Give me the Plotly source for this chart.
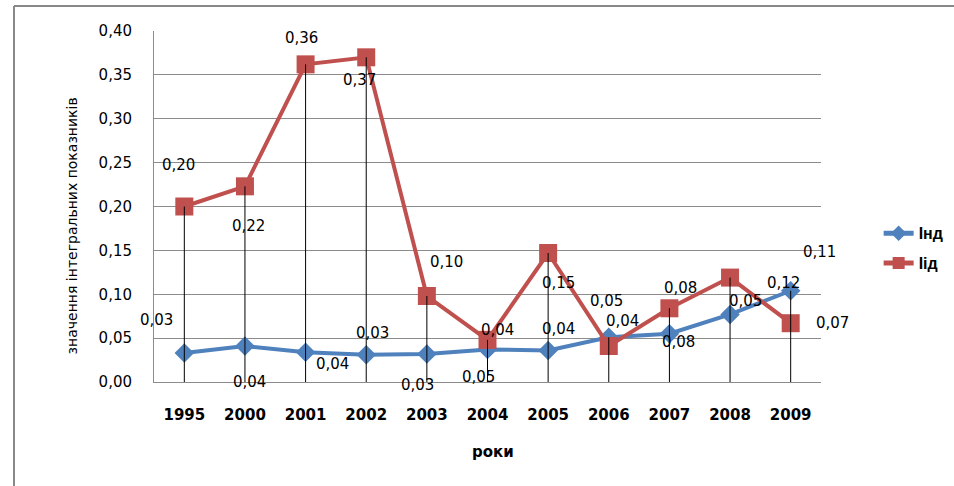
import plotly.graph_objects as go

years = ["1995", "2000", "2001", "2002", "2003", "2004", "2005", "2006", "2007", "2008", "2009"]
ind = [0.033, 0.041, 0.034, 0.031, 0.032, 0.037, 0.036, 0.051, 0.055, 0.077, 0.104]
iid = [0.200, 0.223, 0.362, 0.370, 0.098, 0.048, 0.147, 0.041, 0.084, 0.119, 0.067]
ind_labels = ["0,03", "0,04", "0,04", "0,03", "0,03", "0,05", "0,04", "0,05", "0,08", "0,05", "0,11"]
iid_labels = ["0,20", "0,22", "0,36", "0,37", "0,10", "0,04", "0,15", "0,04", "0,08", "0,12", "0,07"]
y_ticks = [0.0, 0.05, 0.10, 0.15, 0.20, 0.25, 0.30, 0.35, 0.40]

# label offsets in pixels (dx right, dy down) relative to their point
ind_off = [(-28, -33), (5, 36), (27, 12), (6, -22), (-9, 31), (-9, 27), (10, -21), (-2, -36), (9, 8), (15, -13), (29, -39)]
iid_off = [(-6, -42), (4, 40), (-4, -26), (-7, 23), (20, -34), (10, -10), (10, 30), (14, -25), (11, -20), (53, 5), (42, 0)]

BLUE = "#4F81BD"
RED = "#C0504D"

fig = go.Figure()
fig.add_trace(go.Scatter(
    x=years, y=ind, name="Інд", mode="lines+markers", legendgroup="a",
    line=dict(color=BLUE, width=4),
    marker=dict(symbol="diamond", size=15, color=BLUE),
))
fig.add_trace(go.Scatter(
    x=years, y=iid, name="Іід", mode="lines+markers", legendgroup="b",
    line=dict(color=RED, width=4),
    marker=dict(symbol="square", size=18, color=RED),
))

# drop lines from the higher point down to the axis
dx, dy = [], []
for yr, a, b in zip(years, ind, iid):
    dx += [yr, yr, None]
    dy += [max(a, b), 0, None]
fig.add_trace(go.Scatter(x=dx, y=dy, mode="lines", showlegend=False,
                         line=dict(color="black", width=1), hoverinfo="skip"))

LBL_FONT = dict(family="DejaVu Sans", size=15, color="black")
annotations = []
for i, (v, t, (ox, oy)) in enumerate(zip(ind, ind_labels, ind_off)):
    annotations.append(dict(x=i, y=v, xref="x", yref="y", text=t, showarrow=False,
                            xshift=ox, yshift=-oy, font=LBL_FONT))
for i, (v, t, (ox, oy)) in enumerate(zip(iid, iid_labels, iid_off)):
    annotations.append(dict(x=i, y=v, xref="x", yref="y", text=t, showarrow=False,
                            xshift=ox, yshift=-oy, font=LBL_FONT))

annotations.append(dict(x=-0.138, y=0.446, xref="paper", yref="paper",
                        text="значення інтегральних показників", textangle=-90,
                        showarrow=False,
                        font=dict(family="DejaVu Sans", size=14, color="black")))
annotations.append(dict(x=0.508, y=-0.231, xref="paper", yref="paper", text="роки",
                        showarrow=False,
                        font=dict(family="DejaVu Sans", size=15, color="black", weight="bold")))

GRID = "#8c8c8c"
fig.update_layout(
    width=954, height=486,
    margin=dict(l=154, r=133, t=31, b=104, autoexpand=False),
    paper_bgcolor="white", plot_bgcolor="white",
    separators=", ",
    showlegend=True,
    legend=dict(x=0.921, y=0.489, xref="container", yref="container",
                xanchor="left", yanchor="middle",
                tracegroupgap=6, bgcolor="rgba(0,0,0,0)", itemsizing="constant",
                font=dict(family="Liberation Sans", size=16, color="black", weight="bold")),
    annotations=annotations,
    shapes=[
        dict(type="line", xref="paper", yref="paper", x0=-0.2099, x1=1.2, y0=1.0714, y1=1.0714,
             line=dict(color="#888888", width=2)),
        dict(type="line", xref="paper", yref="paper", x0=-0.2099, x1=-0.2099, y0=1.0714, y1=-0.3,
             line=dict(color="#888888", width=2)),
    ],
    xaxis=dict(type="category", range=[-0.5, 10.5], showgrid=False,
               showline=True, linecolor=GRID, linewidth=1, ticks="",
               ticklabelstandoff=19,
               tickfont=dict(family="DejaVu Sans", size=15, color="black", weight="bold")),
    yaxis=dict(range=[0, 0.40], tickvals=y_ticks, tickformat=".2f",
               showgrid=True, gridcolor=GRID, gridwidth=1,
               showline=True, linecolor=GRID, linewidth=1, zeroline=False,
               ticks="", ticklabelstandoff=18,
               tickfont=dict(family="DejaVu Sans", size=15, color="black")),
)

fig.write_html("out.html", config={"displayModeBar": False},
               post_script="document.body.style.margin='0';")
